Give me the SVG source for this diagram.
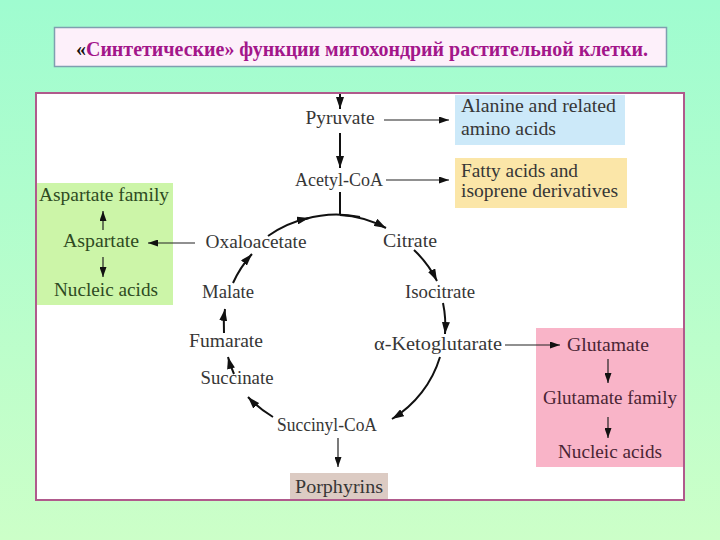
<svg xmlns="http://www.w3.org/2000/svg" width="720" height="540" viewBox="0 0 720 540">
<defs>
<linearGradient id="bg" x1="0" y1="0" x2="0" y2="1">
<stop offset="0" stop-color="#9ffcd0"/>
<stop offset="1" stop-color="#ccffc8"/>
</linearGradient>
<marker id="ah" viewBox="0 0 10 7" refX="10" refY="3.5" markerWidth="10" markerHeight="7" markerUnits="userSpaceOnUse" orient="auto">
<path d="M0,0 L10,3.5 L0,7 z" fill="#111"/>
</marker>
<marker id="ahb" viewBox="0 0 12 8" refX="12" refY="4" markerWidth="12" markerHeight="8" markerUnits="userSpaceOnUse" orient="auto">
<path d="M0,0 L12,4 L0,8 z" fill="#111"/>
</marker>
</defs>
<style>
text{font-family:"Liberation Serif","Times New Roman",serif;font-size:18.5px;fill:#363636}
.c{text-anchor:middle}
.thin{fill:none;stroke:#222;stroke-width:1.2;marker-end:url(#ah)}
.thick{fill:none;stroke:#111;stroke-width:2;marker-end:url(#ahb)}
.g text{fill:#2e4a22}
.p text{fill:#4a2434}
</style>
<rect x="0" y="0" width="720" height="540" fill="url(#bg)"/>
<g id="title">
<rect x="54.5" y="27.5" width="612" height="39" fill="#fdf0fa" stroke="#7f9fb0" stroke-width="1.5"/>
<text x="76" y="55.5" textLength="572" lengthAdjust="spacingAndGlyphs" style="font-size:21px;font-weight:bold;fill:#a3168a"><tspan style="fill:#111">«</tspan>Синтетические» функции митохондрий растительной клетки.</text>
</g>
<rect x="36" y="93" width="648" height="407" fill="#ffffff"/>
<g id="alanine">
<rect x="455" y="95" width="170" height="50" fill="#cce9f9"/>
<text x="461" y="112" textLength="155" lengthAdjust="spacingAndGlyphs">Alanine and related</text>
<text x="461" y="135" textLength="95" lengthAdjust="spacingAndGlyphs">amino acids</text>
</g>
<g id="fatty">
<rect x="455" y="158" width="172" height="50" fill="#fbe6a8"/>
<text x="461" y="177" textLength="117" lengthAdjust="spacingAndGlyphs">Fatty acids and</text>
<text x="461" y="197" textLength="157" lengthAdjust="spacingAndGlyphs">isoprene derivatives</text>
</g>
<g id="aspartate-box" class="g">
<rect x="37" y="183" width="136" height="122" fill="#ccf5a8"/>
<text x="104" y="201" class="c" textLength="130" lengthAdjust="spacingAndGlyphs">Aspartate family</text>
<text x="101" y="247" class="c" textLength="76" lengthAdjust="spacingAndGlyphs">Aspartate</text>
<text x="106" y="296" class="c" textLength="104" lengthAdjust="spacingAndGlyphs">Nucleic acids</text>
</g>
<g id="glutamate-box" class="p">
<rect x="536" y="328" width="147" height="139" fill="#f9b4c8"/>
<text x="608" y="351" class="c" textLength="82" lengthAdjust="spacingAndGlyphs">Glutamate</text>
<text x="610" y="404" class="c" textLength="134" lengthAdjust="spacingAndGlyphs">Glutamate family</text>
<text x="610" y="458" class="c" textLength="104" lengthAdjust="spacingAndGlyphs">Nucleic acids</text>
</g>
<g id="porphyrins">
<rect x="290" y="473" width="98" height="28" fill="#dccbc3"/>
<text x="339" y="493" class="c" textLength="88" lengthAdjust="spacingAndGlyphs">Porphyrins</text>
</g>
<g id="pyruvate"><text x="340" y="124" class="c" textLength="69" lengthAdjust="spacingAndGlyphs">Pyruvate</text></g>
<g id="acetylcoa"><text x="339" y="186" class="c" textLength="88" lengthAdjust="spacingAndGlyphs">Acetyl-CoA</text></g>
<g id="citrate"><text x="410" y="247" class="c" textLength="54" lengthAdjust="spacingAndGlyphs">Citrate</text></g>
<g id="isocitrate"><text x="440" y="298" class="c" textLength="70" lengthAdjust="spacingAndGlyphs">Isocitrate</text></g>
<g id="aketo"><text x="438" y="350" class="c" textLength="128" lengthAdjust="spacingAndGlyphs">α-Ketoglutarate</text></g>
<g id="succinylcoa"><text x="327" y="431" class="c" textLength="100" lengthAdjust="spacingAndGlyphs">Succinyl-CoA</text></g>
<g id="succinate"><text x="237" y="384" class="c" textLength="73" lengthAdjust="spacingAndGlyphs">Succinate</text></g>
<g id="fumarate"><text x="226" y="347" class="c" textLength="74" lengthAdjust="spacingAndGlyphs">Fumarate</text></g>
<g id="malate"><text x="228" y="298" class="c" textLength="52" lengthAdjust="spacingAndGlyphs">Malate</text></g>
<g id="oxaloacetate"><text x="256" y="248" class="c" textLength="101" lengthAdjust="spacingAndGlyphs">Oxaloacetate</text></g>
<g id="connectors">
<path class="thick" d="M340 93 V109"/>
<path class="thick" d="M340 133 V168"/>
<path class="thin" d="M384 120 H449"/>
<path class="thin" d="M386 180 H449"/>
<path d="M340 192 V215" fill="none" stroke="#111" stroke-width="2"/>
<path class="thin" d="M195 243 H148"/>
<path class="thin" d="M103 230 V211"/>
<path class="thin" d="M103 257 V277"/>
<path class="thin" d="M505 345 H560"/>
<path class="thin" d="M608 359 V383"/>
<path class="thin" d="M608 417 V438"/>
<path class="thin" d="M338 438 V467"/>
<path class="thick" d="M268 236 A110 110 0 0 1 309 218"/>
<path d="M305 219 A110 110 0 0 1 360 217" fill="none" stroke="#111" stroke-width="2"/>
<path class="thick" d="M340 215 A110 110 0 0 1 386 228"/>
<path class="thick" d="M414 250 A110 110 0 0 1 437 281"/>
<path class="thick" d="M443 303 A110 110 0 0 1 445 334"/>
<path class="thick" d="M440 357 A110 110 0 0 1 392 419"/>
<path class="thick" d="M273 417 A110 110 0 0 1 248 397"/>
<path class="thick" d="M234 374 A110 110 0 0 1 228 357"/>
<path class="thick" d="M224 333 A110 110 0 0 1 225 309"/>
<path class="thick" d="M233 283 A110 110 0 0 1 252 254"/>
</g>
<rect x="36" y="93" width="648" height="407" fill="none" stroke="#b05a8c" stroke-width="2"/>
</svg>
